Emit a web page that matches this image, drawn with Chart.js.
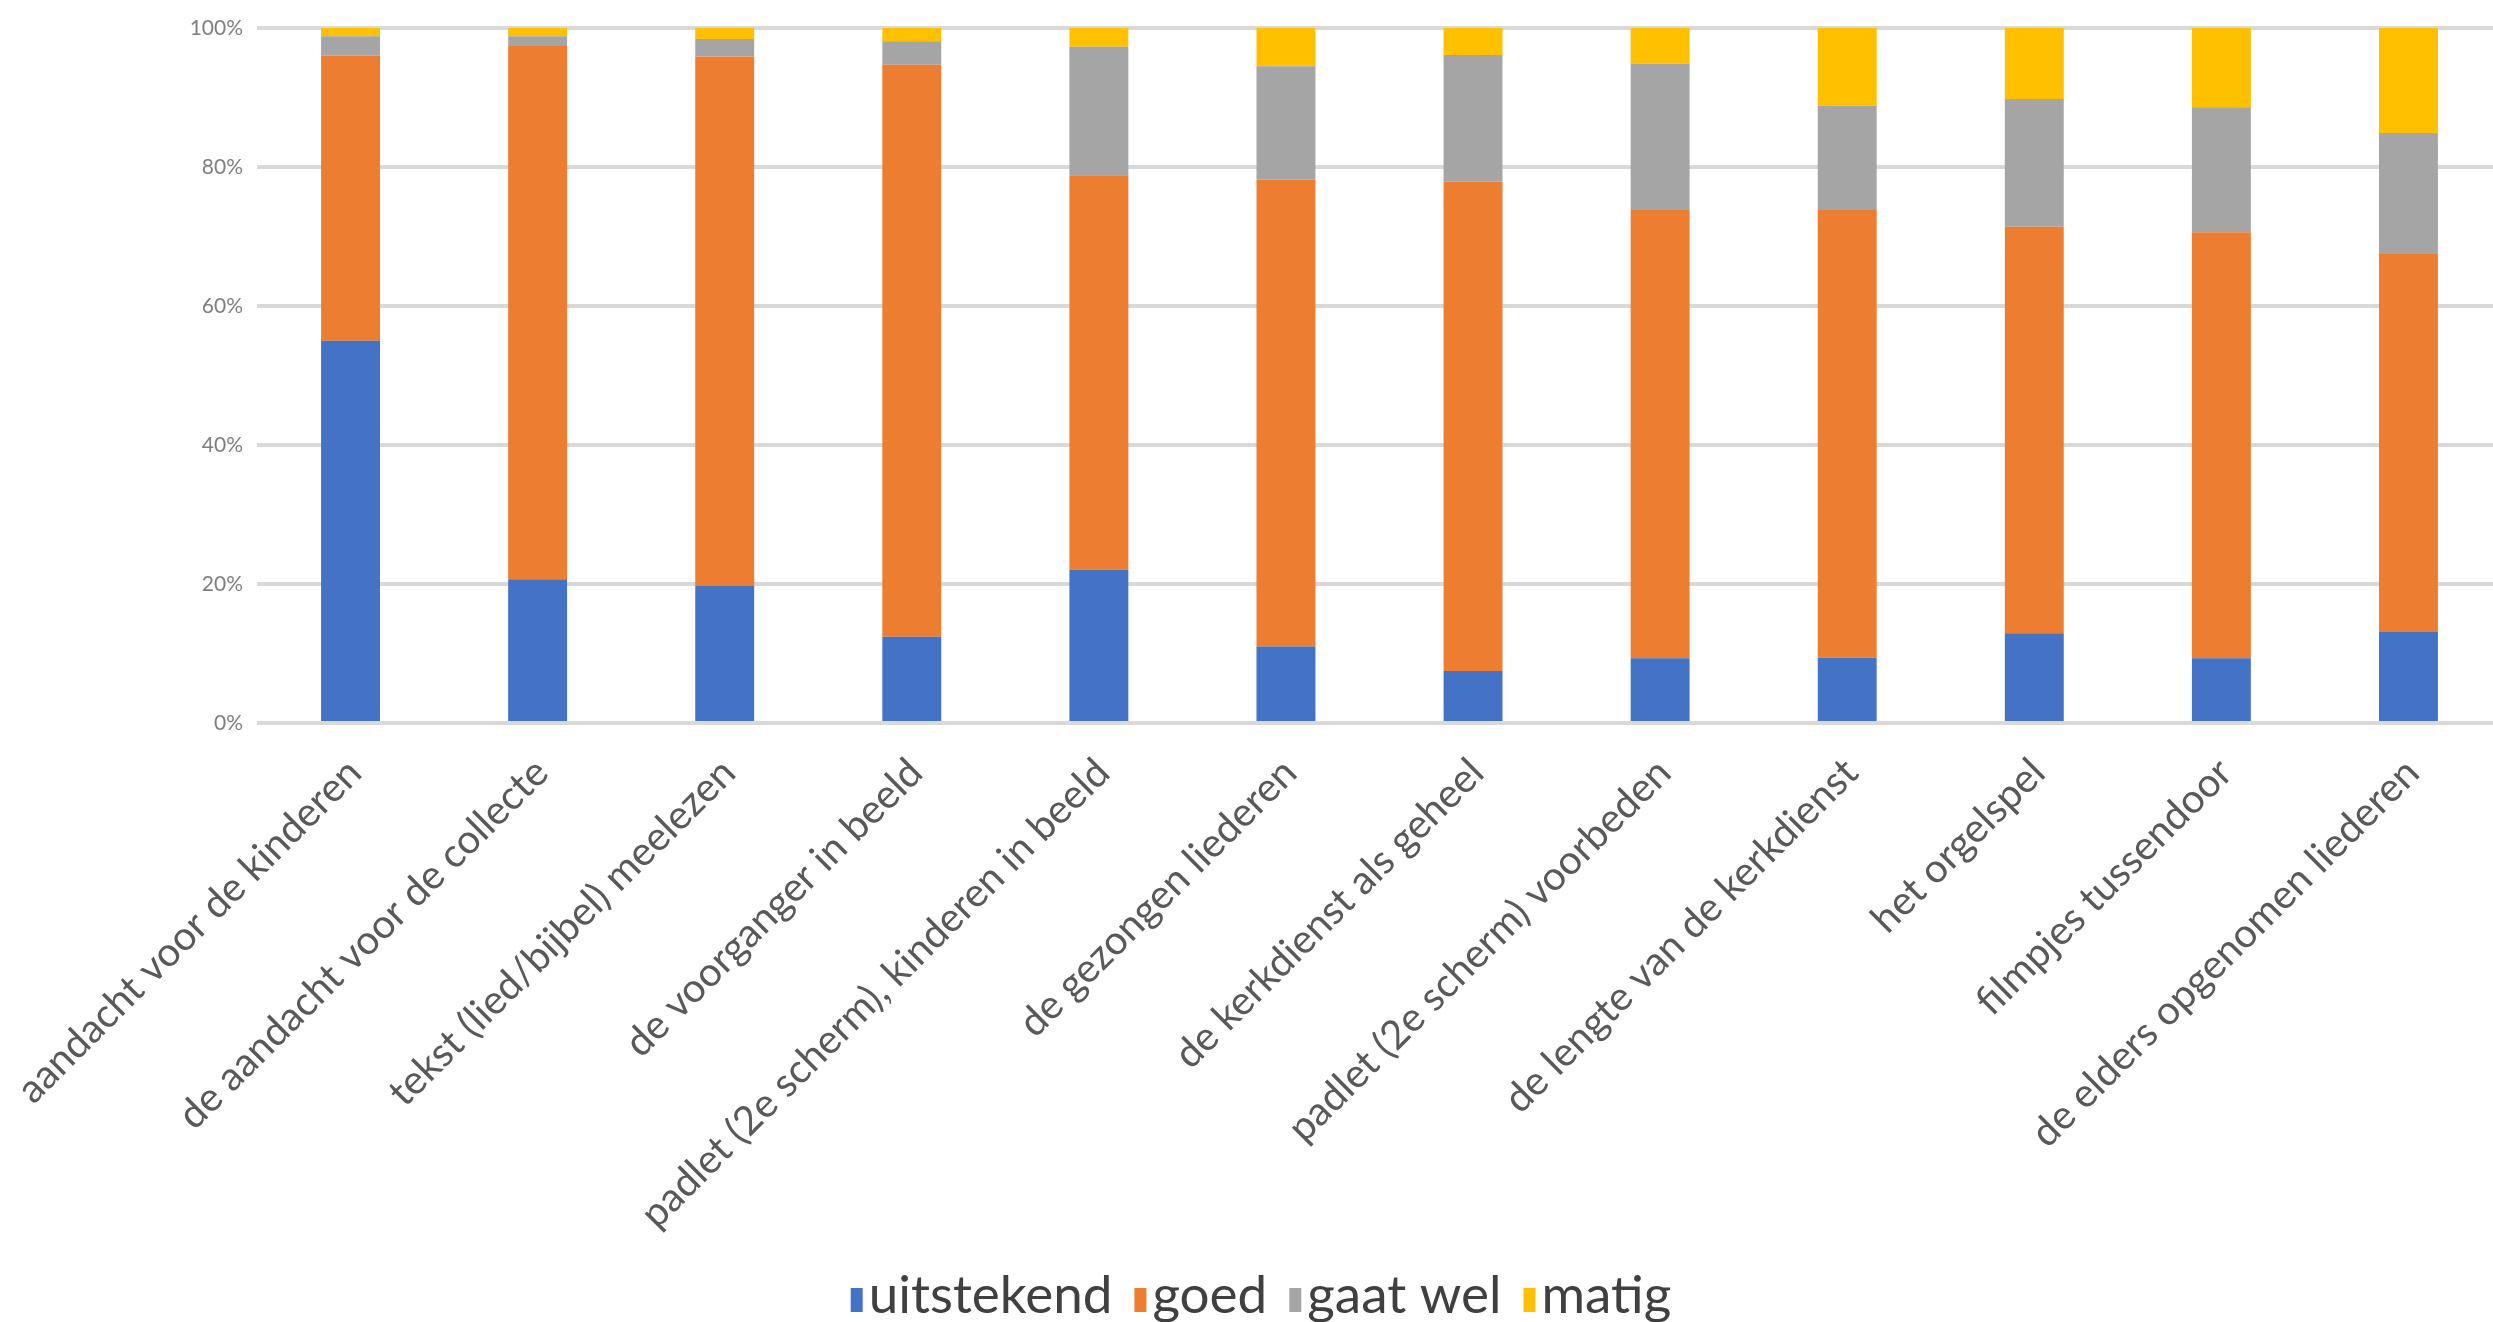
<!DOCTYPE html>
<html>
<head>
<meta charset="utf-8">
<script src="https://cdn.jsdelivr.net/npm/chart.js@4.4.1/dist/chart.umd.min.js"></script>
<style>
  html, body { margin: 0; padding: 0; background: #fff; overflow: hidden; }
  #wrap { width: 2502px; height: 1322px; }
</style>
</head>
<body>
<div id="wrap"><canvas id="chart" width="2502" height="1322"></canvas></div>
<script>
// categories (x axis)
const categories = [
  "aandacht voor de kinderen",
  "de aandacht voor de collecte",
  "tekst (lied/bijbel) meelezen",
  "de voorganger in beeld",
  "padlet (2e scherm), kinderen in beeld",
  "de gezongen liederen",
  "de kerkdienst als geheel",
  "padlet (2e scherm) voorbeden",
  "de lengte van de kerkdienst",
  "het orgelspel",
  "filmpjes tussendoor",
  "de elders opgenomen liederen"
];

// share of answers per category, in percent
const uitstekend = [55.0, 20.7, 19.7, 12.4, 22.1, 11.0, 7.5, 9.3, 9.4, 12.9, 9.3, 13.1];
const goed       = [41.0, 76.7, 76.2, 82.3, 56.7, 67.2, 70.4, 64.5, 64.4, 58.5, 61.3, 54.4];
const gaatWel    = [2.8, 1.4, 2.5, 3.4, 18.5, 16.3, 18.2, 21.1, 15.0, 18.4, 18.0, 17.4];
const matig      = [1.2, 1.2, 1.6, 1.9, 2.7, 5.5, 3.9, 5.1, 11.2, 10.2, 11.4, 15.1];

const yTicks = [0, 20, 40, 60, 80, 100];

const seriesNames = ["uitstekend", "goed", "gaat wel", "matig"];
const seriesColors = ["#4472C4", "#ED7D31", "#A5A5A5", "#FFC000"];

// legend drawn by hand so the box/text spacing looks like the Excel one
const excelLegend = {
  id: "excelLegend",
  afterDraw(chart) {
    const ctx = chart.ctx;
    const font = "53px Lato, 'Noto Sans', sans-serif";
    ctx.save();
    ctx.font = font;
    ctx.textBaseline = "middle";
    const boxW = 12, boxH = 24, gapBox = 6, gapItem = 22;
    const items = chart.data.datasets.map(ds => ({ text: ds.label, color: ds.backgroundColor }));
    let total = 0;
    items.forEach((it, i) => {
      it.w = ctx.measureText(it.text).width;
      total += boxW + gapBox + it.w + (i < items.length - 1 ? gapItem : 0);
    });
    let x = 1261 - total / 2;
    const y = 1296;
    items.forEach(it => {
      ctx.fillStyle = it.color;
      ctx.fillRect(x, y - boxH / 2 + 4, boxW, boxH);
      x += boxW + gapBox;
      ctx.fillStyle = "#404040";
      ctx.fillText(it.text, x, y);
      x += it.w + gapItem;
    });
    ctx.restore();
  }
};

const datasets = [uitstekend, goed, gaatWel, matig].map((vals, i) => ({
  label: seriesNames[i],
  data: vals,
  backgroundColor: seriesColors[i],
  borderWidth: 0,
  barPercentage: 0.63,
  categoryPercentage: 0.5
}));

new Chart(document.getElementById("chart"), {
  type: "bar",
  data: { labels: categories, datasets },
  options: {
    responsive: false,
    animation: false,
    layout: { padding: { top: 28, left: 0, right: 0, bottom: 0 } },
    plugins: {
      legend: { display: false },
      tooltip: { enabled: false }
    },
    scales: {
      x: {
        stacked: true,
        grid: { display: false },
        border: { display: false },
        ticks: {
          autoSkip: false,
          minRotation: 45,
          maxRotation: 45,
          padding: 18,
          labelOffset: 4,
          color: "#595959",
          font: { family: "Lato, 'Noto Sans', sans-serif", size: 40 }
        },
        afterFit: (scale) => {
          scale.height = 1322 - 723;
          // rotated labels would otherwise push the plot area inwards
          scale.paddingLeft = 0;
          scale.paddingRight = 0;
        }
      },
      y: {
        stacked: true,
        min: 0,
        max: 100,
        afterBuildTicks: (scale) => { scale.ticks = yTicks.map(v => ({ value: v })); },
        grid: { color: "#D9D9D9", lineWidth: 4, drawTicks: false },
        border: { display: false },
        ticks: {
          padding: 14,
          color: "#7F7F7F",
          font: { family: "Lato, 'Noto Sans', sans-serif", size: 21 },
          callback: (v) => v + "%"
        },
        afterFit: (scale) => { scale.width = 257; }
      }
    }
  },
  plugins: [excelLegend]
});
</script>
</body>
</html>
